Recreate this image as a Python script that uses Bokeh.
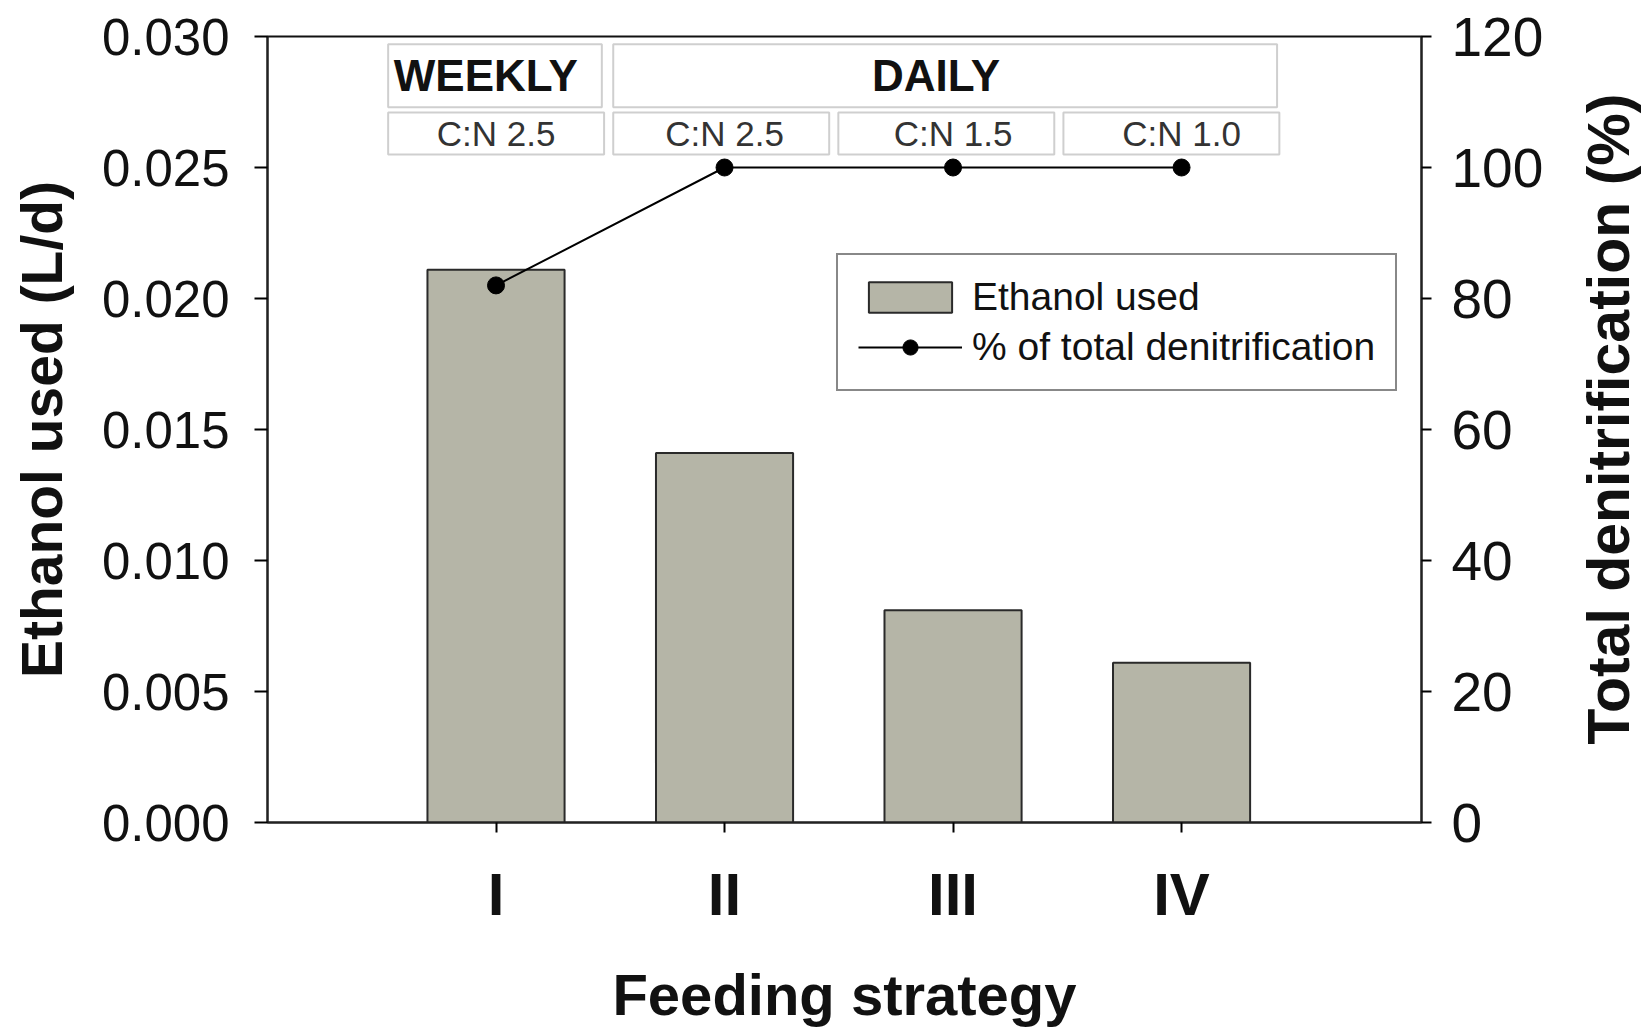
import math
from bokeh.plotting import figure
from bokeh.layouts import row
from bokeh.models import (LinearAxis, Range1d, FixedTicker, PrintfTickFormatter,
                          Legend, LegendItem, ColumnDataSource)
from bokeh.core.properties import value
from bokeh.embed import file_html
from bokeh.resources import INLINE

# ---------------- data ----------------
strategies = ["I", "II", "III", "IV"]
strategy_x = [1, 2, 3, 4]
ethanol_used = [0.0211, 0.0141, 0.0081, 0.0061]        # L/d (left axis)
total_denitrification = [82, 100, 100, 100]            # % (right axis)
feeding_groups = ["WEEKLY", "DAILY"]
group_members = [[1], [2, 3, 4]]
cn_ratios = ["C:N 2.5", "C:N 2.5", "C:N 1.5", "C:N 1.0"]
left_ticks = [0.0, 0.005, 0.010, 0.015, 0.020, 0.025, 0.030]
right_ticks = [0, 20, 40, 60, 80, 100, 120]

FONT = "Liberation Sans"
MAIN_W, SIDE_W, H = 1566, 80, 1029

p = figure(width=MAIN_W, height=H, output_backend="svg", toolbar_location=None,
           x_range=Range1d(0, 5.05), y_range=Range1d(0, 0.030),
           min_border_left=267, min_border_right=MAIN_W - 1421,
           min_border_top=36, min_border_bottom=207)
p.extra_y_ranges = {"pct": Range1d(0, 120)}
p.xgrid.visible = False
p.ygrid.visible = False
p.outline_line_color = "#111111"
p.outline_line_width = 2
p.background_fill_color = "white"
p.border_fill_color = "white"

# bars
src = ColumnDataSource(dict(x=strategy_x, top=ethanol_used))
bars = p.vbar(x="x", top="top", width=0.6, source=src, bottom=0,
              fill_color="#b5b5a7", line_color="#2a2a2a", line_width=2)

# line + markers
src2 = ColumnDataSource(dict(x=strategy_x, y=total_denitrification))
ln = p.line(x="x", y="y", source=src2, y_range_name="pct",
            line_color="black", line_width=2)
sc = p.scatter(x="x", y="y", source=src2, y_range_name="pct", size=17,
               fill_color="black", line_color="black")

# annotation boxes (header rows)
hdr_top, hdr_bot = 0.0297, 0.0273
cn_top, cn_bot = 0.0271, 0.0255
box_first, box_pitch, box_w = 0.528, 0.985, 0.945
box_left = {k: box_first + box_pitch * (k - 1) for k in strategy_x}
for name, members in zip(feeding_groups, group_members):
    left = box_left[min(members)]
    right = box_left[max(members)] + box_w - 0.01
    p.quad(left=[left], right=[right], top=[hdr_top], bottom=[hdr_bot],
           fill_color="white", line_color="#cfcfcf", line_width=2)
    p.text(x=[(left + right) / 2 - 0.04], y=[(hdr_top + hdr_bot) / 2], text=[name],
           text_font=value(FONT), text_font_style="bold", text_font_size="44px",
           text_align="center", text_baseline="middle", text_color="#111111")
for xi, lab in zip(strategy_x, cn_ratios):
    p.quad(left=[box_left[xi]], right=[box_left[xi] + box_w], top=[cn_top], bottom=[cn_bot],
           fill_color="white", line_color="#cfcfcf", line_width=2)
    p.text(x=[xi], y=[(cn_top + cn_bot) / 2], text=[lab],
           text_font=value(FONT), text_font_size="35px",
           text_align="center", text_baseline="middle", text_color="#333333")

# left axis
ya = p.yaxis[0]
ya.ticker = FixedTicker(ticks=left_ticks)
ya.formatter = PrintfTickFormatter(format="%.3f")
ya.axis_label = "Ethanol used (L/d)"
ya.axis_label_text_font = FONT
ya.axis_label_text_font_style = "bold"
ya.axis_label_text_font_size = "57px"
ya.axis_label_text_color = "#111111"
ya.axis_label_standoff = 25
ya.major_label_text_font = FONT
ya.major_label_text_font_size = "51px"
ya.major_label_text_color = "#111111"
ya.major_label_standoff = 25
ya.major_tick_out = 13
ya.major_tick_in = 0
ya.minor_tick_out = 0
ya.minor_tick_in = 0
ya.axis_line_width = 2
ya.axis_line_color = "#222222"
ya.major_tick_line_width = 2

# right axis
ra = LinearAxis(y_range_name="pct", ticker=FixedTicker(ticks=right_ticks))
ra.major_label_text_font = FONT
ra.major_label_text_font_size = "55px"
ra.major_label_text_color = "#111111"
ra.major_label_standoff = 20
ra.major_tick_out = 10
ra.major_tick_in = 0
ra.minor_tick_out = 0
ra.minor_tick_in = 0
ra.axis_line_width = 2
ra.axis_line_color = "#222222"
ra.major_tick_line_width = 2
p.add_layout(ra, "right")

# bottom axis
xa = p.xaxis[0]
xa.ticker = FixedTicker(ticks=strategy_x)
xa.major_label_overrides = {x: s for x, s in zip(strategy_x, strategies)}
xa.axis_label = "Feeding strategy"
xa.axis_label_text_font = FONT
xa.axis_label_text_font_style = "bold"
xa.axis_label_text_font_size = "58px"
xa.axis_label_text_color = "#111111"
xa.axis_label_standoff = 31
xa.major_label_text_font = FONT
xa.major_label_text_font_style = "bold"
xa.major_label_text_font_size = "60px"
xa.major_label_text_color = "#111111"
xa.major_label_standoff = 28
xa.major_tick_out = 10
xa.major_tick_in = 0
xa.minor_tick_out = 0
xa.minor_tick_in = 0
xa.axis_line_width = 2
xa.axis_line_color = "#222222"
xa.major_tick_line_width = 2

# legend
legend = Legend(items=[LegendItem(label="Ethanol used", renderers=[bars]),
                       LegendItem(label="% of total denitrification", renderers=[ln, sc])],
                location=(569, 431), label_text_font=FONT, label_text_font_size="39px",
                label_text_color="#111111",
                glyph_width=104, glyph_height=38, label_standoff=10, label_height=30,
                padding=20, spacing=6, border_line_color="#111111",
                border_line_width=2, background_fill_alpha=1.0)
p.add_layout(legend, "center")

# right-hand axis title, in a narrow side panel (reads bottom-to-top)
side = figure(width=SIDE_W, height=H, output_backend="svg", toolbar_location=None,
              x_range=Range1d(0, SIDE_W), y_range=Range1d(0, H),
              min_border=0, min_border_left=0, min_border_right=0,
              min_border_top=0, min_border_bottom=0)
side.axis.visible = False
side.xgrid.visible = False
side.ygrid.visible = False
side.outline_line_color = None
side.background_fill_color = "white"
side.border_fill_color = "white"
side.text(x=[42], y=[H - 501], text=["Total denitrification (%)"], angle=math.pi / 2,
          text_font=value(FONT), text_font_style="bold", text_font_size="59px",
          text_color="#111111", text_align="center", text_baseline="middle")

layout = row(p, side, spacing=0)
open("out.html", "w").write(file_html(layout, INLINE))
